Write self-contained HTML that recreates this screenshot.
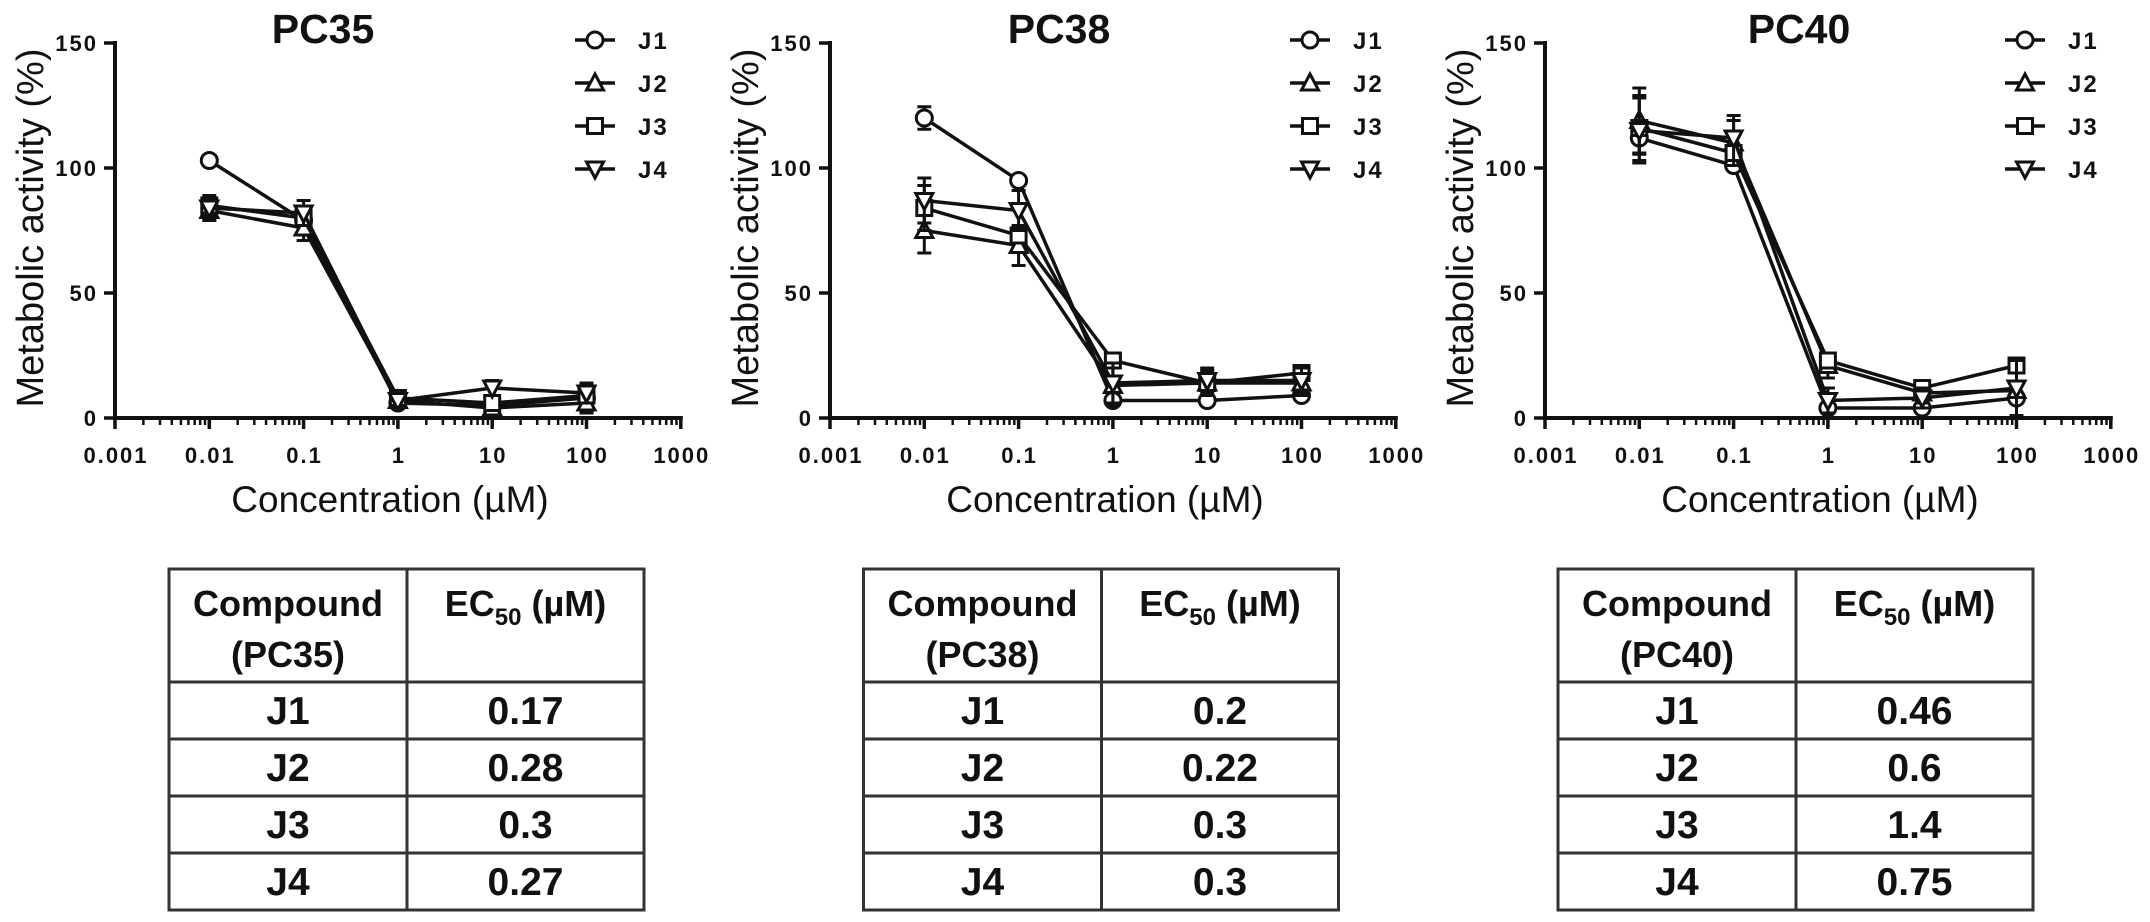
<!DOCTYPE html>
<html><head><meta charset="utf-8">
<style>
html,body{margin:0;padding:0;background:#fff;}
svg{display:block;}
text{font-family:"Liberation Sans",Arial,sans-serif;fill:#111;}
</style></head>
<body>
<svg id="fig" width="2150" height="922" viewBox="0 0 2150 922" xmlns="http://www.w3.org/2000/svg"></svg>
<script>
// ---- data ----
const xVals = [0.01, 0.1, 1, 10, 100];
const xTickLabels = ["0.001","0.01","0.1","1","10","100","1000"];
const yTickVals = [0, 50, 100, 150];
const seriesNames = ["J1","J2","J3","J4"];
const chartTitles = ["PC35","PC38","PC40"];

const pc35J1 = [103, 79, 6, 5, 8];
const pc35J2 = [83, 76, 7, 4, 6];
const pc35J3 = [85, 80, 8, 6, 9];
const pc35J4 = [84, 82, 7, 12, 10];
const pc35Err = [4, 5, 2, 3, 4];

const pc38J1 = [120, 95, 7, 7, 9];
const pc38J2 = [75, 69, 13, 14, 14];
const pc38J3 = [84, 73, 23, 14, 18];
const pc38J4 = [87, 83, 14, 15, 15];
const pc38Err = [9, 8, 8, 5, 5];

const pc40J1 = [112, 101, 4, 4, 8];
const pc40J2 = [119, 110, 21, 10, 11];
const pc40J3 = [116, 106, 23, 12, 21];
const pc40J4 = [115, 112, 7, 8, 12];
const pc40Err = [13, 9, 5, 4, 11];

const ec50Compounds = ["J1","J2","J3","J4"];
const ec50PC35 = ["0.17","0.28","0.3","0.27"];
const ec50PC38 = ["0.2","0.22","0.3","0.3"];
const ec50PC40 = ["0.46","0.6","1.4","0.75"];

// ---- rendering ----
const NS = "http://www.w3.org/2000/svg";
const svg = document.getElementById("fig");
function mk(tag, attrs, parent, txt){
  const e = document.createElementNS(NS, tag);
  for (const k in attrs) e.setAttribute(k, attrs[k]);
  if (txt !== undefined) e.textContent = txt;
  (parent || svg).appendChild(e);
  return e;
}

const chartData = [
  {series:[pc35J1,pc35J2,pc35J3,pc35J4], err:pc35Err, ec:ec50PC35, titleX:323},
  {series:[pc38J1,pc38J2,pc38J3,pc38J4], err:pc38Err, ec:ec50PC38, titleX:1059},
  {series:[pc40J1,pc40J2,pc40J3,pc40J4], err:pc40Err, ec:ec50PC40, titleX:1799}
];
const markerShapes = ["circle","triUp","square","triDown"];

function drawMarker(g, shape, cx, cy){
  let m;
  if (shape === "circle") m = mk("circle",{cx:cx,cy:cy,r:8,fill:"#fff",stroke:"#111","stroke-width":3},g);
  else if (shape === "square") m = mk("rect",{x:cx-7.5,y:cy-7.5,width:15,height:15,fill:"#fff",stroke:"#111","stroke-width":3},g);
  else if (shape === "triUp") m = mk("polygon",{points:`${cx},${cy-9} ${cx+8.5},${cy+7} ${cx-8.5},${cy+7}`,fill:"#fff",stroke:"#111","stroke-width":3},g);
  else m = mk("polygon",{points:`${cx},${cy+9} ${cx+8.5},${cy-7} ${cx-8.5},${cy-7}`,fill:"#fff",stroke:"#111","stroke-width":3},g);
  return m;
}

chartData.forEach((cd, ci) => {
  const off = ci * 715;
  const x0 = 115 + off, dec = 94.3, y0 = 418, yTop = 43;
  const xs = v => x0 + (Math.log10(v) + 3) * dec;
  const ys = v => y0 - v * (y0 - yTop) / 150;

  const g = mk("g",{});
  
  

  const t = mk("text",{x:cd.titleX,y:43,"text-anchor":"middle","font-size":41,"font-weight":"bold"},g,chartTitles[ci]);
  
  

  // y axis
  const ya = mk("line",{x1:x0,y1:yTop-2,x2:x0,y2:y0+2,stroke:"#111","stroke-width":4},g);
  
  
  yTickVals.forEach(v => {
    mk("line",{x1:x0-11,y1:ys(v),x2:x0,y2:ys(v),stroke:"#111","stroke-width":3.5},g);
    const tl = mk("text",{x:x0-17,y:ys(v)+8,"text-anchor":"end","font-size":22,"font-weight":"bold","letter-spacing":2,fill:"#333"},g,String(v));
    
    
  });
  const yl = mk("text",{x:0,y:0,"text-anchor":"middle","font-size":38,transform:`translate(${43+off},228) rotate(-90)`},g,"Metabolic activity (%)");
  
  

  // x axis
  const xEnd = xs(1000);
  const xa = mk("line",{x1:x0-2,y1:y0,x2:xEnd+2,y2:y0,stroke:"#111","stroke-width":4},g);
  
  
  xTickLabels.forEach((lab, i) => {
    const v = Math.pow(10, i - 3);
    const px = xs(v);
    mk("line",{x1:px,y1:y0,x2:px,y2:y0+11,stroke:"#111","stroke-width":3.5},g);
    const tl = mk("text",{x:px+1,y:463,"text-anchor":"middle","font-size":22,"font-weight":"bold","letter-spacing":2,fill:"#333"},g,lab);
    
    
    if (i < xTickLabels.length - 1) {
      for (let k = 2; k <= 9; k++) {
        const mx = xs(v * k);
        mk("line",{x1:mx,y1:y0,x2:mx,y2:y0+7,stroke:"#111","stroke-width":2.5},g);
      }
    }
  });
  const xl = mk("text",{x:x0+275,y:512,"text-anchor":"middle","font-size":37},g,"Concentration (µM)");
  
  

  // series
  cd.series.forEach((vals, si) => {
    const sg = mk("g",{},g);
    
    
    const pts = vals.map((v, i) => `${xs(xVals[i])},${ys(v)}`).join(" ");
    mk("polyline",{points:pts,fill:"none",stroke:"#111","stroke-width":3.5},sg);
    vals.forEach((v, i) => {
      const px = xs(xVals[i]);
      if (si === 1 || si === 3 || i === 0) {
        const e = cd.err[i] * (si === 0 ? 0.5 : 1);
        const eb = mk("path",{d:`M${px},${ys(v+e)}V${ys(v-e)}M${px-7},${ys(v+e)}H${px+7}M${px-7},${ys(v-e)}H${px+7}`,stroke:"#111","stroke-width":3,fill:"none"},sg);
        
        
      }
    });
    vals.forEach((v, i) => {
      const m = drawMarker(sg, markerShapes[si], xs(xVals[i]), ys(v));
      
      
    });
  });

  // legend
  const lg = mk("g",{},g);
  
  
  const legY = [40, 83, 126, 169];
  seriesNames.forEach((nm, si) => {
    const le = mk("g",{},lg);
    
    
    const lx = x0 + 480;
    mk("line",{x1:lx-20,y1:legY[si],x2:lx+20,y2:legY[si],stroke:"#111","stroke-width":3.5},le);
    drawMarker(le, markerShapes[si], lx, legY[si]);
    mk("text",{x:x0+523,y:legY[si]+9,"font-size":24,"font-weight":"bold","letter-spacing":2,fill:"#333"},le,nm);
  });

  // table
  const toff = ci * 694.5;
  const tx = 169 + toff, tw = 475, ty = 569, colX = 407 + toff;
  const hh = 113, rh = 57;
  const tg = mk("g",{},svg);
  
  
  const bottom = ty + hh + rh * 4;
  mk("rect",{x:tx,y:ty,width:tw,height:bottom-ty,fill:"none",stroke:"#333","stroke-width":3},tg);
  mk("line",{x1:colX,y1:ty,x2:colX,y2:bottom,stroke:"#333","stroke-width":3},tg);
  for (let r = 0; r < 4; r++) {
    const yy = ty + hh + r * rh;
    mk("line",{x1:tx,y1:yy,x2:tx+tw,y2:yy,stroke:"#333","stroke-width":3},tg);
  }
  const c1 = (tx + colX) / 2, c2 = (colX + tx + tw) / 2;
  const h1 = mk("text",{x:c1,y:ty+47,"text-anchor":"middle","font-size":36,"font-weight":"bold"},tg,"Compound");
  
  
  mk("text",{x:c1,y:ty+98,"text-anchor":"middle","font-size":36,"font-weight":"bold"},tg,"(" + chartTitles[ci] + ")");
  const h2 = mk("text",{x:c2,y:ty+47,"text-anchor":"middle","font-size":36,"font-weight":"bold"},tg);
  
  
  mk("tspan",{},h2,"EC");
  mk("tspan",{"font-size":24,dy:9},h2,"50");
  mk("tspan",{dy:-9},h2," (µM)");
  ec50Compounds.forEach((c, r) => {
    const yy = ty + hh + r * rh + 42;
    const a = mk("text",{x:c1,y:yy,"text-anchor":"middle","font-size":39,"font-weight":"bold"},tg,c);
    
    
    const b = mk("text",{x:c2,y:yy,"text-anchor":"middle","font-size":39,"font-weight":"bold"},tg,cd.ec[r]);
    
    
  });
});
</script>
</body></html>
